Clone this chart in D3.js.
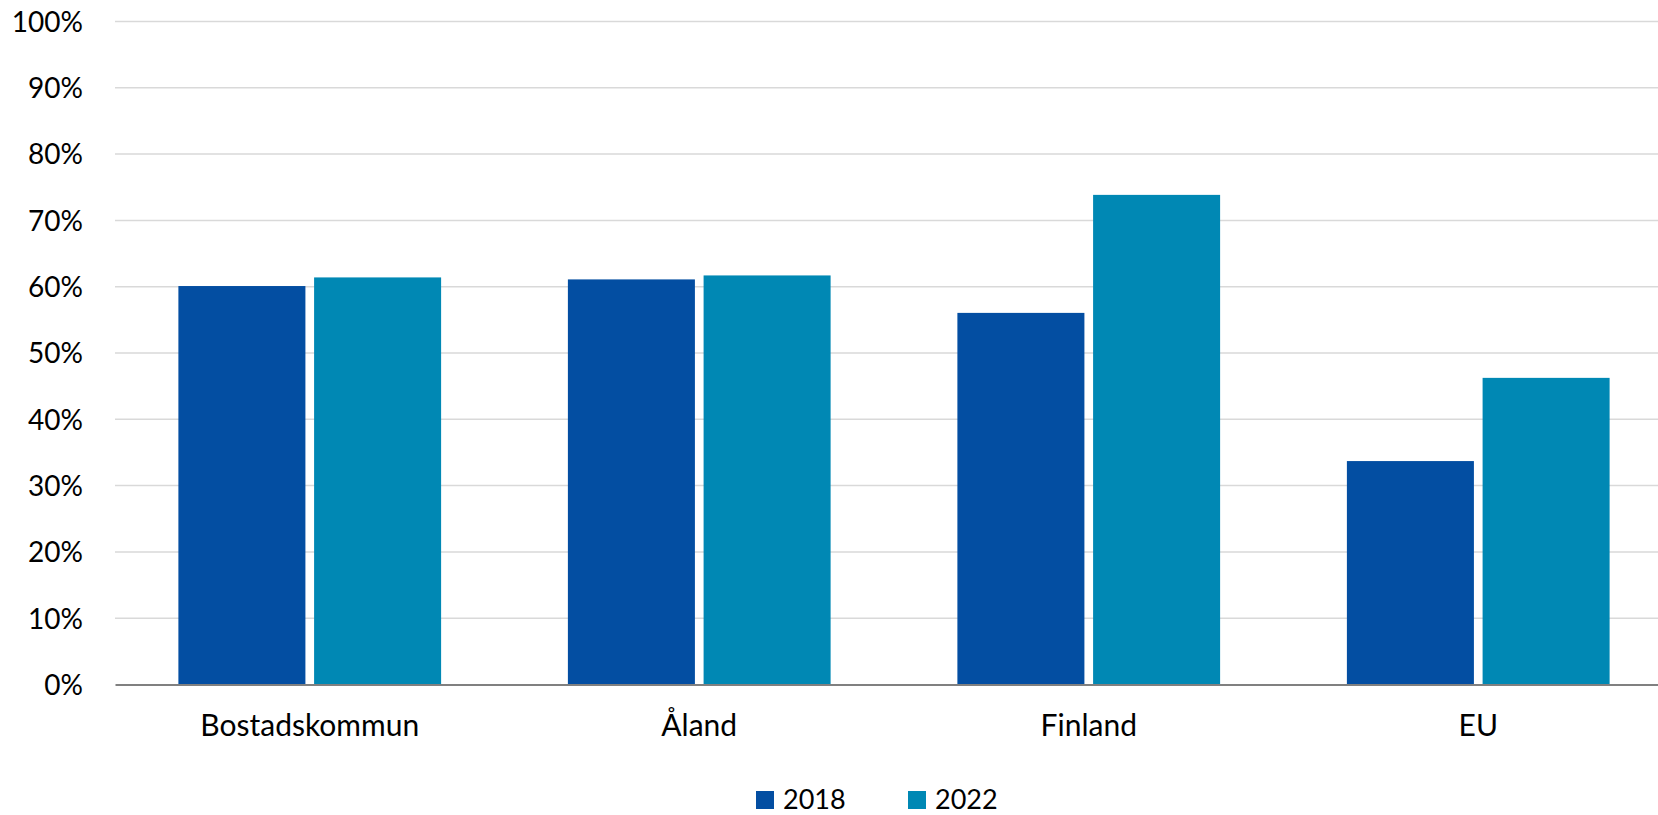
<!DOCTYPE html>
<html>
<head>
<meta charset="utf-8">
<script src="https://cdn.jsdelivr.net/npm/d3@7"></script>
<style>
  body { margin: 0; background: #fff; }
  svg text { font-family: Lato, "Open Sans", sans-serif; fill: #000; }
</style>
</head>
<body>
<div id="chart"></div>
<script>
// data
var categories = ["Bostadskommun", "Åland", "Finland", "EU"];
var seriesNames = ["2018", "2022"];
var values2018 = [60.1, 61.1, 56.05, 33.7];
var values2022 = [61.4, 61.7, 73.85, 46.25];
var yTicks = [0, 10, 20, 30, 40, 50, 60, 70, 80, 90, 100];

var colors = { "2018": "#034ea2", "2022": "#0088b4" };

var svgWidth = 1658;
var svgHeight = 815;

// plot area (right edge runs past the picture, as in the original)
var plotLeft = 115;
var plotRight = 1673;
var plotTop = 21.5;
var plotBottom = 684.5;

var svg = d3.select("#chart")
  .append("svg")
  .attr("width", svgWidth)
  .attr("height", svgHeight);

var rows = categories.map(function(c, i) {
  return { cat: c, "2018": values2018[i], "2022": values2022[i] };
});

var x0 = d3.scaleBand()
  .domain(categories)
  .range([plotLeft, plotRight])
  .paddingInner(0.3255)
  .paddingOuter(0.3255 / 2);

var x1 = d3.scaleBand()
  .domain(seriesNames)
  .range([0, x0.bandwidth()])
  .paddingInner(0.064);

var y = d3.scaleLinear()
  .domain([0, 100])
  .range([plotBottom, plotTop]);

// gridlines
svg.append("g")
  .selectAll("line")
  .data(yTicks.filter(d => d > 0))
  .enter()
  .append("line")
  .attr("x1", plotLeft)
  .attr("x2", plotRight)
  .attr("y1", d => y(d))
  .attr("y2", d => y(d))
  .attr("stroke", "#d9d9d9")
  .attr("stroke-width", 1.5);

// y axis labels
var yAxis = svg.append("g")
  .attr("transform", `translate(${plotLeft}, 0)`)
  .call(d3.axisLeft(y).tickValues(yTicks).tickFormat(d => d + "%").tickSize(0).tickPadding(32));
yAxis.select(".domain").remove();
yAxis.selectAll("text")
  .style("font-size", "28px")
  .attr("dy", "0.35em");

// bars
var groups = svg.append("g")
  .selectAll("g")
  .data(rows)
  .enter()
  .append("g")
  .attr("transform", d => `translate(${x0(d.cat)}, 0)`);

groups.selectAll("rect")
  .data(d => seriesNames.map(s => ({ key: s, value: d[s] })))
  .enter()
  .append("rect")
  .attr("x", d => x1(d.key))
  .attr("width", x1.bandwidth())
  .attr("y", d => y(d.value))
  .attr("height", d => y(0) - y(d.value))
  .attr("fill", d => colors[d.key]);

// x axis
var xAxis = svg.append("g")
  .attr("transform", `translate(0, ${plotBottom})`)
  .call(d3.axisBottom(x0).tickSize(0).tickPadding(30));
xAxis.select(".domain")
  .attr("stroke", "#808080")
  .attr("stroke-width", 2);
xAxis.selectAll("text")
  .style("font-size", "30px");

// legend
var legendX = [756, 908];
var legend = svg.append("g")
  .selectAll("g")
  .data(seriesNames)
  .enter()
  .append("g")
  .attr("transform", (d, i) => `translate(${legendX[i]}, 791)`);

legend.append("rect")
  .attr("width", 18)
  .attr("height", 18)
  .attr("fill", d => colors[d]);

legend.append("text")
  .attr("x", 27)
  .attr("y", 18)
  .style("font-size", "27px")
  .text(d => d);
</script>
</body>
</html>
